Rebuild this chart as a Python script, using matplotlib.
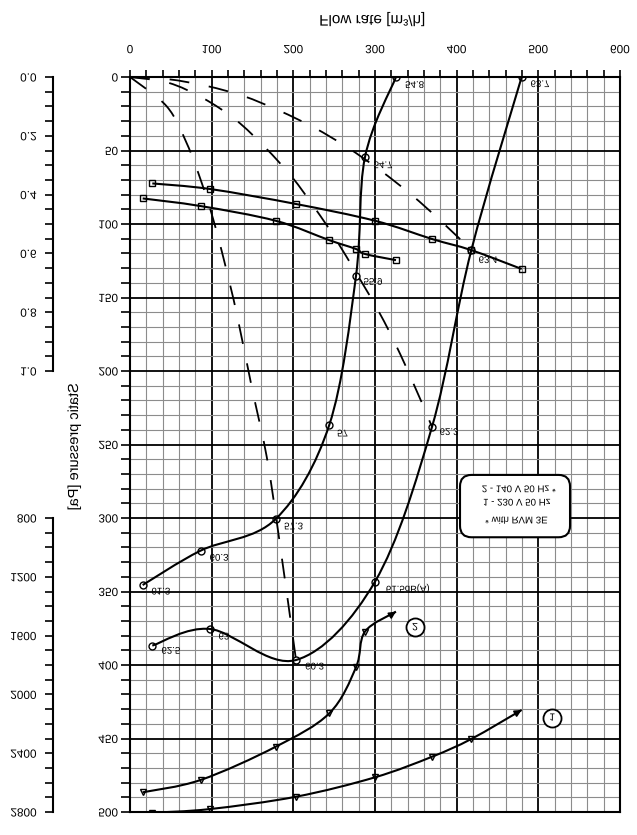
import numpy as np
import matplotlib
matplotlib.use('Agg')
import matplotlib.pyplot as plt
from matplotlib.path import Path
from matplotlib.patches import PathPatch, FancyBboxPatch, FancyArrowPatch
from matplotlib.patheffects import AbstractPathEffect
from matplotlib.transforms import Affine2D
from matplotlib.text import Text
from matplotlib.ticker import FixedLocator, MultipleLocator

plt.rcParams['font.family'] = ['Liberation Sans', 'DejaVu Sans']

# ---------------- data ----------------
flow_ticks = [0, 100, 200, 300, 400, 500, 600]
pres_ticks = [0, 50, 100, 150, 200, 250, 300, 350, 400, 450, 500]
power_ticks = [0.0, 0.2, 0.4, 0.6, 0.8, 1.0]
speed_ticks = [800, 1200, 1600, 2000, 2400, 2800]

# fan curve at 230 V (noise values in dB(A))
flow_1 = [479.6, 418, 369.8, 300, 203.3, 98, 27.3]
pres_1 = [0, 117.7, 238, 343.3, 396.6, 375.5, 386.8]
noise_1 = ['63.7', '63.4', '62.3', '61.5dB(A)', '60.3', '63', '62.5']

# fan curve at 140 V
flow_2 = [325.7, 287.7, 276.7, 244, 178.4, 86.5, 15.5]
pres_2 = [0, 54.6, 135.4, 236.7, 300.7, 322.2, 345.6]
noise_2 = ['54.8', '54.7', '55.9', '57', '57.3', '60.3', '61.3']

# power curves (square markers, 0.0-1.0 scale)
power_1 = [0.653, 0.589, 0.551, 0.489, 0.432, 0.381, 0.362]
power_2 = [0.623, 0.602, 0.585, 0.555, 0.489, 0.439, 0.413]

# speed curves (triangle markers, 800-2800 scale)
speed_1 = [2106, 2303, 2424, 2564, 2696, 2780, 2805]
speed_2 = [1437, 1573, 1816, 2129, 2356, 2582, 2666]

# system curves (dashed)
sys1_flow = [0, 45, 69.4, 87.8, 102, 116, 130.6, 149, 167.3, 181.6, 203.3]
sys1_pres = [0, 20, 45, 72, 97, 126.6, 160.8, 210.7, 258, 310, 396.6]
sys2_flow = [0, 46.9, 89.8, 129.8, 165.3, 198, 226.5, 253.8, 306, 338.7, 369.8]
sys2_pres = [0, 3.9, 14.5, 29.3, 47.8, 67.8, 89.3, 112, 161, 198, 238]
sys3_flow = [0, 46.9, 93.9, 138.7, 182.8, 225.7, 266, 306, 345, 380.8, 418]
sys3_pres = [0, 1.5, 6.1, 12.9, 22.9, 34.5, 47.8, 63.3, 80.3, 98, 117.7]

legend_lines = ['2 - 140 V 50 Hz *', '1 - 230 V 50 Hz', '* with RVM 3E']


# ---------------- helpers ----------------
class VFlip(AbstractPathEffect):
    """Draw text mirrored vertically about its own centre."""
    def draw_path(self, renderer, gc, tpath, affine, rgbFace=None):
        ext = tpath.get_extents(affine)
        cy = 0.5 * (ext.y0 + ext.y1)
        t = affine + Affine2D().translate(0, -cy).scale(1, -1).translate(0, cy)
        renderer.draw_path(gc, tpath, t, rgbFace)


def smooth_path(xs, ys):
    p = np.column_stack([xs, ys]).astype(float)
    n = len(p)
    verts = [p[0]]
    codes = [Path.MOVETO]
    for i in range(n - 1):
        p0 = p[i - 1] if i > 0 else p[i]
        p1, p2 = p[i], p[i + 1]
        p3 = p[i + 2] if i + 2 < n else p[i + 1]
        c1 = p1 + (p2 - p0) / 6.0
        c2 = p2 - (p3 - p1) / 6.0
        verts += [c1, c2, p2]
        codes += [Path.CURVE4] * 3
    return Path(verts, codes)


def draw_curve(axx, xs, ys, ls='-', lw=1.5):
    path = smooth_path(xs, ys)
    axx.add_patch(PathPatch(path, fill=False, ec='black', lw=lw, ls=ls,
                            capstyle='butt', zorder=4))


# ---------------- figure ----------------
fig = plt.figure(figsize=(6.37, 8.35), dpi=100)
ax = fig.add_axes([130 / 637, 1 - 812 / 835, 490 / 637, 735 / 835])
ax.set_xlim(0, 600)
ax.set_ylim(500, 0)

ax.xaxis.tick_top()
ax.xaxis.set_major_locator(FixedLocator(flow_ticks))
ax.xaxis.set_minor_locator(MultipleLocator(20))
ax.set_xticklabels([str(v) for v in flow_ticks])
ax.yaxis.set_major_locator(FixedLocator(pres_ticks))
ax.yaxis.set_minor_locator(MultipleLocator(10))
ax.set_yticklabels([str(v) for v in pres_ticks])

ax.tick_params(axis='x', which='both', direction='out', length=5, width=1.2,
               top=True, bottom=False, labeltop=True, labelbottom=False,
               labelsize=8.5, pad=10)
ax.tick_params(axis='y', which='both', direction='out', length=6.5, width=1.2,
               labelsize=8.5, pad=2)
ax.grid(which='minor', color='#8c8c8c', lw=0.8)
ax.grid(which='major', color='black', lw=1.3)
ax.set_axisbelow(True)
for s in ax.spines.values():
    s.set_linewidth(1.5)

# power axis
ax2 = ax.twinx()
ax2.set_ylim(2.5, 0)
ax2.yaxis.tick_left()
for s in ['top', 'bottom', 'right']:
    ax2.spines[s].set_visible(False)
ax2.spines['left'].set_position(('axes', -0.1571))
ax2.spines['left'].set_bounds(0, 1.0)
ax2.spines['left'].set_linewidth(1.5)
ax2.yaxis.set_major_locator(FixedLocator(power_ticks))
ax2.yaxis.set_minor_locator(FixedLocator(np.arange(0, 1.0001, 0.05)))
ax2.set_yticklabels(['%.1f' % v for v in power_ticks])
ax2.tick_params(axis='y', which='both', direction='out', length=5.8, width=1.2,
                labelsize=8.5, pad=6)

# speed axis
ax3 = ax.twinx()
ax3.set_ylim(2800, -2200)
ax3.yaxis.tick_left()
for s in ['top', 'bottom', 'right']:
    ax3.spines[s].set_visible(False)
ax3.spines['left'].set_position(('axes', -0.1571))
ax3.spines['left'].set_bounds(800, 2800)
ax3.spines['left'].set_linewidth(1.5)
ax3.yaxis.set_major_locator(FixedLocator(speed_ticks))
ax3.yaxis.set_minor_locator(FixedLocator(np.arange(800, 2801, 100)))
ax3.set_yticklabels([str(v) for v in speed_ticks])
ax3.tick_params(axis='y', which='both', direction='out', length=5.8, width=1.2,
                labelsize=8.5, pad=6)

# system curves
dash = (0, (11, 11))
for fx, fy in [(sys1_flow, sys1_pres), (sys2_flow, sys2_pres), (sys3_flow, sys3_pres)]:
    draw_curve(ax, fx, fy, ls=dash, lw=1.3)

# fan curves
draw_curve(ax, flow_1, pres_1)
draw_curve(ax, flow_2, pres_2)
ax.plot(flow_1, pres_1, ls='none', marker='o', ms=5, mfc='none', mec='black', mew=1, zorder=5)
ax.plot(flow_2, pres_2, ls='none', marker='o', ms=5, mfc='none', mec='black', mew=1, zorder=5)

# power curves
draw_curve(ax2, flow_1, power_1)
draw_curve(ax2, flow_2, power_2)
ax2.plot(flow_1, power_1, ls='none', marker='s', ms=5, mfc='none', mec='black', mew=1, zorder=5)
ax2.plot(flow_2, power_2, ls='none', marker='s', ms=5, mfc='none', mec='black', mew=1, zorder=5)

# speed curves with arrow heads at the high-flow end
for fx, sp in [(flow_1, speed_1), (flow_2, speed_2)]:
    draw_curve(ax3, fx, sp)
    ax3.plot(fx[1:], sp[1:], ls='none', marker='v', ms=5, mfc='none', mec='black', mew=1, zorder=5)
    rpath = smooth_path(fx[::-1], sp[::-1])
    c2r = rpath.vertices[-2]
    end = rpath.vertices[-1]
    start = end - 0.35 * (end - c2r)
    ax3.add_patch(FancyArrowPatch(posA=tuple(start), posB=tuple(end), arrowstyle='-|>',
                                  mutation_scale=10, lw=1.2, color='black',
                                  shrinkA=0, shrinkB=0, zorder=5))

# point labels
lab1_pos = [(502, 4.8), (438.4, 124.5), (390.6, 241.5), (340, 347.5),
            (226, 401), (115, 380.6), (50, 390.3)]
lab2_pos = [(348.4, 5.4), (309.8, 59.9), (297.5, 139.3), (260.2, 242.4),
            (200.2, 305.7), (109, 327), (37.7, 350)]
for (x, y), t in zip(lab1_pos, noise_1):
    ax.text(x, y, t, ha='center', va='center', fontsize=7, zorder=6)
for (x, y), t in zip(lab2_pos, noise_2):
    ax.text(x, y, t, ha='center', va='center', fontsize=7, zorder=6)

# circled curve numbers
for (x, y), t in [((517, 435.8), '1'), ((349, 374.4), '2')]:
    ax.plot([x], [y], marker='o', ms=13, mfc='white', mec='black', mew=1.3, zorder=6)
    ax.text(x, y, t, ha='center', va='center', fontsize=7.5, zorder=7)

# note box
box = FancyBboxPatch((404.1, 270.7), 134.7, 42.4,
                     boxstyle='round,pad=0,rounding_size=14', mutation_aspect=0.556,
                     fc='white', ec='black', lw=1.5, zorder=6)
ax.add_patch(box)
for (x, y), t in zip([(476.2, 280.4), (473.7, 289.5), (473.2, 301.8)], legend_lines):
    ax.text(x, y, t, ha='center', va='center', fontsize=7, zorder=7)

# axis titles
fig.text(372 / 637, 1 - 19 / 835, 'Flow rate [m³/h]', ha='center', va='center', fontsize=11)
fig.text(74 / 637, 1 - 446 / 835, 'Static pressure [Pa]', ha='center', va='center',
         rotation=90, fontsize=10.5)

fig.canvas.draw()
for t in fig.findobj(Text):
    t.set_path_effects([VFlip()])
fig.savefig('out.png', dpi=100)
